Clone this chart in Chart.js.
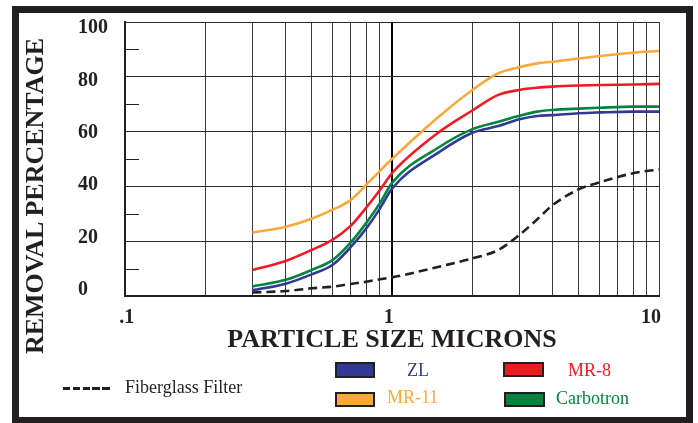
<!DOCTYPE html>
<html>
<head>
<meta charset="utf-8">
<script src="https://cdn.jsdelivr.net/npm/chart.js@4.4.1/dist/chart.umd.min.js"></script>
<style>
  html, body { margin: 0; padding: 0; background: #fff; }
  #wrap { position: relative; width: 698px; height: 423px; overflow: hidden; font-family: "Liberation Serif", "Times New Roman", serif; color: #231f20; }
  #frame { position: absolute; left: 12px; top: 6px; width: 681px; height: 418px; box-sizing: border-box; border: 7px solid #231f20; }
  #chart { position: absolute; left: 0; top: 0; }
  #ytitle { position: absolute; left: -135.5px; top: 181px; width: 340px; height: 30px; line-height: 30px; text-align: center; font-size: 26px; font-weight: bold; transform: rotate(-90deg); white-space: nowrap; }
  .lg-box { position: absolute; box-sizing: border-box; border: 2px solid #231f20; }
  .lg-text { position: absolute; font-size: 18px; line-height: 18px; white-space: nowrap; }
  #dash { position: absolute; left: 63px; top: 387px; width: 47px; height: 3px; background: repeating-linear-gradient(to right, #231f20 0 7.3px, transparent 7.3px 9.8px); }
</style>
</head>
<body>
<div id="wrap">
  <div id="frame"></div>
  <canvas id="chart" width="698" height="423"></canvas>
  <div id="ytitle">REMOVAL PERCENTAGE</div>
  <div id="dash"></div>
  <div class="lg-text" style="left:125px; top:378px;">Fiberglass Filter</div>
  <div class="lg-box" style="left:335px; top:362px; width:40px; height:16px; background:#2e3a94;"></div>
  <div class="lg-text" style="left:407px; top:361px; color:#2e3a94;">ZL</div>
  <div class="lg-box" style="left:335px; top:392px; width:40px; height:15px; background:#f9a93b;"></div>
  <div class="lg-text" style="left:387px; top:388px; color:#f9a93b;">MR-11</div>
  <div class="lg-box" style="left:503px; top:362px; width:41px; height:15px; background:#ed1c24;"></div>
  <div class="lg-text" style="left:568px; top:361px; color:#ed1c24;">MR-8</div>
  <div class="lg-box" style="left:504px; top:392px; width:41px; height:15px; background:#00843f;"></div>
  <div class="lg-text" style="left:556px; top:389px; color:#00843f;">Carbotron</div>
</div>
<script>
// particle size (microns) where the curves were read
const sizes = [0.3, 0.4, 0.5, 0.6, 0.7, 0.8, 0.9, 1, 1.5, 2, 2.5, 3, 3.5, 4, 5, 6, 8, 10];
const mr11 = [23.2, 25.3, 28.2, 31.5, 35, 40.5, 45.6, 50, 65.5, 75.2, 81.3, 83.5, 84.9, 85.5, 86.7, 87.6, 88.8, 89.4];
const mr8 = [9.5, 12.8, 16.8, 20.6, 25.6, 32.2, 38.6, 44.8, 59.8, 67.7, 73.4, 75.2, 76, 76.4, 76.8, 77, 77.2, 77.4];
const carbotron = [3.5, 5.9, 9.5, 13.2, 19.5, 26.6, 33.8, 41.3, 54.3, 60.9, 63.6, 65.8, 67.3, 67.9, 68.4, 68.7, 69.1, 69.1];
const zl = [2.1, 4.5, 7.9, 11.4, 17.8, 24.6, 31.8, 39.2, 52.5, 59.6, 62, 64.5, 65.7, 66, 66.7, 67, 67.3, 67.3];
const fiberglass = [1.3, 1.8, 2.8, 3.4, 4.4, 5.2, 6.1, 6.8, 10.7, 13.7, 16.8, 22.3, 28, 33.2, 38.9, 41.5, 44.8, 46.2];

// axis ticks
const gridSizes = [0.1, 0.2, 0.3, 0.4, 0.5, 0.6, 0.7, 0.8, 0.9, 1, 2, 3, 4, 5, 6, 7, 8, 9, 10];
const labelSizes = [0.1, 1, 10];
const sizeLabels = { "0.1": ".1", "1": "1", "10": "10" };
const percentTicks = [0, 20, 40, 60, 80, 100];
const minorPercent = [10, 30, 50, 70, 90];

const ink = "#231f20";
const serif = "'Liberation Serif', 'Times New Roman', serif";
const tickFont = { family: serif, size: 20, weight: "bold" };

function points(values) {
  return sizes.map(function(s, i) { return { x: s, y: values[i] }; });
}

function series(label, values, color, dash) {
  return {
    label: label,
    data: points(values),
    borderColor: color,
    backgroundColor: color,
    borderWidth: 2.6,
    borderDash: dash || [],
    pointRadius: 0,
    cubicInterpolationMode: "monotone",
    fill: false
  };
}

// short marks on the left axis at the odd tens
const minorTicks = {
  id: "minorTicks",
  beforeDatasetsDraw: function(chart) {
    const ctx = chart.ctx;
    const y = chart.scales.y;
    const left = chart.chartArea.left;
    ctx.save();
    ctx.strokeStyle = ink;
    ctx.lineWidth = 1;
    minorPercent.forEach(function(v) {
      const py = Math.round(y.getPixelForValue(v)) + 0.5;
      ctx.beginPath();
      ctx.moveTo(left, py);
      ctx.lineTo(left + 14, py);
      ctx.stroke();
    });
    ctx.restore();
  }
};

new Chart(document.getElementById("chart").getContext("2d"), {
  type: "line",
  plugins: [minorTicks],
  data: {
    datasets: [
      series("Fiberglass Filter", fiberglass, ink, [9, 5]),
      series("MR-11", mr11, "#f9a93b"),
      series("MR-8", mr8, "#ed1c24"),
      series("Carbotron", carbotron, "#00843f"),
      series("ZL", zl, "#2e3a94")
    ]
  },
  options: {
    responsive: false,
    animation: false,
    layout: { padding: { left: 78, top: 22, right: 39, bottom: 0 } },
    plugins: {
      legend: { display: false },
      tooltip: { enabled: false }
    },
    scales: {
      x: {
        type: "logarithmic",
        min: 0.1,
        max: 10,
        weight: 0,
        afterBuildTicks: function(axis) {
          axis.ticks = gridSizes.map(function(v) { return { value: v }; });
        },
        afterFit: function(axis) { axis.height = 0; },
        grid: {
          drawTicks: false,
          color: function(c) { return (c.tick && c.tick.value === 1) ? "#000" : "#3a3a3a"; },
          lineWidth: function(c) { return (c.tick && c.tick.value === 1) ? 2 : 1; }
        },
        border: { display: true, color: ink, width: 2 },
        ticks: { display: false }
      },
      // label row under the plot, printed slightly tighter than the grid
      xl: {
        type: "logarithmic",
        position: "bottom",
        min: 0.0985,
        max: 10.73,
        weight: 1,
        afterBuildTicks: function(axis) {
          axis.ticks = labelSizes.map(function(v) { return { value: v }; });
        },
        afterFit: function(axis) { axis.height = 127; },
        grid: { display: false, drawTicks: false },
        border: { display: false },
        ticks: {
          autoSkip: false,
          maxRotation: 0,
          padding: 10,
          color: ink,
          font: tickFont,
          callback: function(value) { return sizeLabels[String(value)] || ""; }
        },
        title: {
          display: true,
          text: "PARTICLE SIZE MICRONS",
          color: ink,
          font: { family: serif, size: 26, weight: "bold" },
          padding: { top: 0, bottom: 67 }
        }
      },
      y: {
        min: 0,
        max: 100,
        weight: 0,
        afterFit: function(axis) { axis.width = 0; },
        grid: { drawTicks: false, color: "#2a2a2a", lineWidth: 1 },
        border: { display: true, color: ink, width: 2 },
        ticks: { display: false, stepSize: 20 }
      },
      // percent labels, printed slightly tighter than the grid
      yl: {
        position: "left",
        min: -2.3,
        max: 102.3,
        weight: 1,
        afterBuildTicks: function(axis) {
          axis.ticks = percentTicks.map(function(v) { return { value: v }; });
        },
        afterFit: function(axis) { axis.width = 47; },
        grid: { display: false, drawTicks: false },
        border: { display: false },
        ticks: {
          crossAlign: "far",
          padding: 0,
          color: ink,
          font: tickFont
        }
      }
    }
  }
});
</script>
</body>
</html>
